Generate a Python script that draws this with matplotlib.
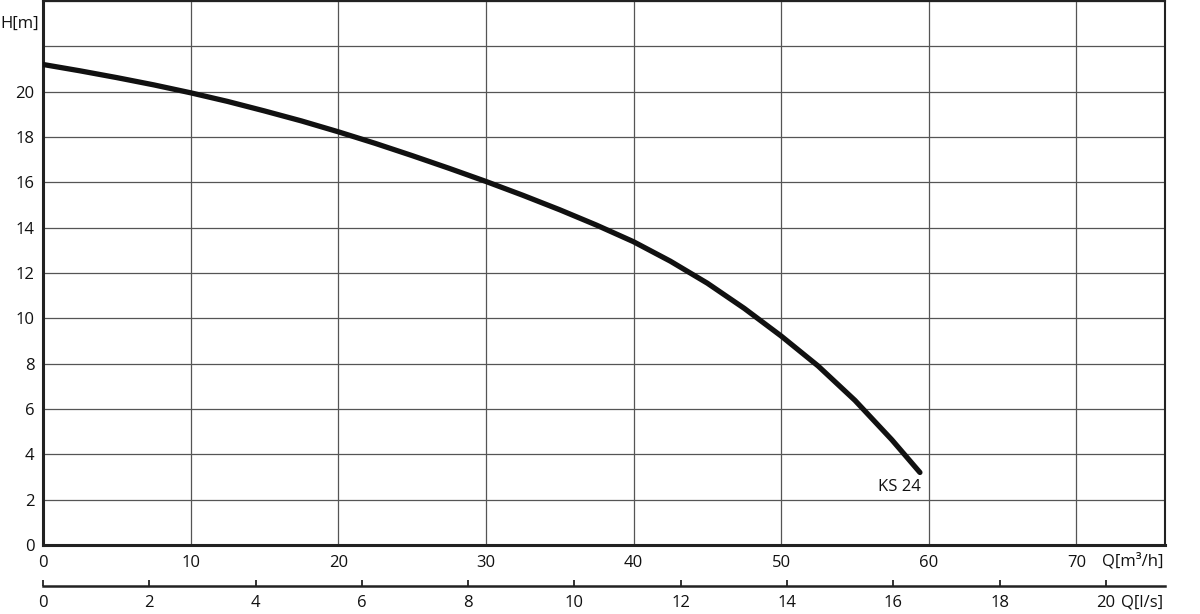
import matplotlib.pyplot as plt

# pump curve KS 24, every 2.5 m3/h
q_m3h = [0, 2.5, 5, 7.5, 10, 12.5, 15, 17.5, 20, 22.5, 25, 27.5, 30,
         32.5, 35, 37.5, 40, 42.5, 45, 47.5, 50, 52.5, 55, 57.5, 59.4]
h_m = [21.2, 20.92, 20.62, 20.3, 19.95, 19.57, 19.15, 18.71, 18.23, 17.72, 17.18, 16.62, 16.04,
       15.43, 14.79, 14.11, 13.38, 12.52, 11.55, 10.44, 9.22, 7.9, 6.38, 4.64, 3.2]

x_ticks = [0, 10, 20, 30, 40, 50, 60, 70]
y_ticks = [0, 2, 4, 6, 8, 10, 12, 14, 16, 18, 20]
ls_ticks = [0, 2, 4, 6, 8, 10, 12, 14, 16, 18, 20]
curve_name = 'KS 24'

plt.rcParams['font.family'] = ['Open Sans', 'DejaVu Sans']
fs = 12

fig = plt.figure(figsize=(12, 6.14), dpi=100)
ax = fig.add_axes([43 / 1200, 69 / 614, 1122 / 1200, 544 / 614])

ax.plot(q_m3h, h_m, color='#111111', lw=3.8, solid_capstyle='round',
        solid_joinstyle='round', zorder=3)
ax.annotate(curve_name, (q_m3h[-1], h_m[-1]), xytext=(1, -5), textcoords='offset points',
            ha='right', va='top', fontsize=fs, color='#111111')

ax.set_xlim(0, 76)
ax.set_ylim(0, 24)
ax.set_xticks(x_ticks)
ax.set_yticks(y_ticks)
ax.set_yticks([22, 24], minor=True)
ax.grid(True, which='both', color='#555555', lw=0.9)
ax.tick_params(which='both', length=0, labelsize=fs, colors='#111111')
ax.tick_params(axis='x', pad=7)
ax.tick_params(axis='y', pad=6)

for side in ['left', 'bottom']:
    ax.spines[side].set_linewidth(2.2)
for side in ['top', 'right']:
    ax.spines[side].set_linewidth(1.5)
for s in ax.spines.values():
    s.set_color('#222222')

ax.annotate('H[m]', (0, 23), xycoords=('axes fraction', 'data'), xytext=(-3, 0),
            textcoords='offset points', ha='right', va='center', fontsize=fs, color='#111111')
ax.annotate('Q[m³/h]', (1, 0), xycoords='axes fraction', xytext=(-1, -6),
            textcoords='offset points', ha='right', va='top', fontsize=fs, color='#111111')

# second flow axis in l/s
sec = ax.secondary_xaxis(-0.076, functions=(lambda x: x / 3.6, lambda x: x * 3.6))
sec.set_xticks(ls_ticks)
sec.tick_params(direction='in', length=4, width=1.2, labelsize=fs, pad=6, colors='#111111')
sec.spines['bottom'].set_linewidth(1.8)
sec.spines['bottom'].set_color('#222222')
ax.annotate('Q[l/s]', (1, -0.076), xycoords='axes fraction', xytext=(-1, -6),
            textcoords='offset points', ha='right', va='top', fontsize=fs, color='#111111')

fig.savefig('out.png', dpi=100, facecolor='white')
